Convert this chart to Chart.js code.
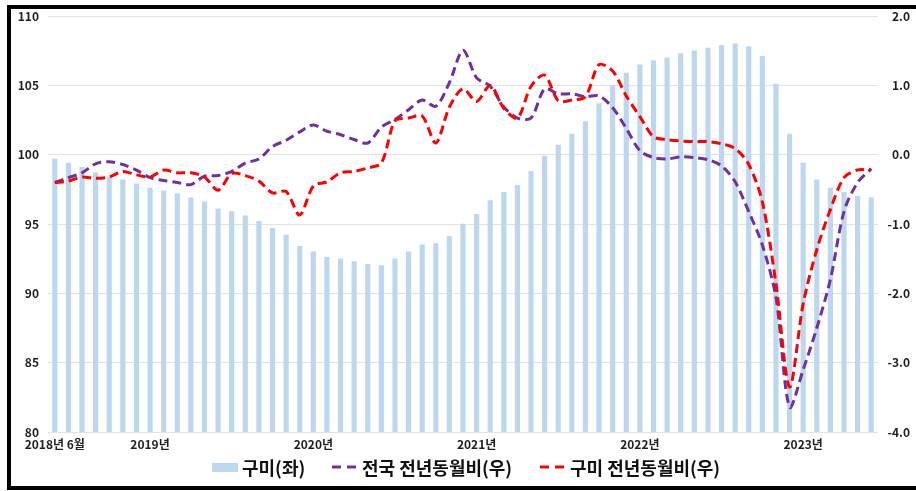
<!DOCTYPE html>
<html>
<head>
<meta charset="utf-8">
<script src="https://cdn.jsdelivr.net/npm/chart.js@4"></script>
<style>
  html, body { margin: 0; padding: 0; background: #fff; width: 916px; height: 491px; overflow: hidden; }
  #wrap { position: relative; width: 916px; height: 491px; }
  #chart { position: absolute; left: 0; top: 0; }
  #frame { position: absolute; left: 7px; top: 5px; width: 916px; height: 477px; border: 4px solid #000; border-right: none; pointer-events: none; }
  .lg { position: absolute; top: 456px; height: 22px; display: flex; align-items: center;
        font: 700 18px 'Noto Sans CJK KR', 'Noto Sans', sans-serif; color: #111; white-space: nowrap; }
  .lg svg { margin-right: 4px; }
</style>
</head>
<body>
<div id="wrap">
  <canvas id="chart" width="916" height="491"></canvas>
  <div id="legend"></div>
  <div id="frame"></div>
</div>
<script>
// months, 2018-06 .. 2023-06
const months = [
  '2018-06','2018-07','2018-08','2018-09','2018-10','2018-11','2018-12',
  '2019-01','2019-02','2019-03','2019-04','2019-05','2019-06','2019-07','2019-08','2019-09','2019-10','2019-11','2019-12',
  '2020-01','2020-02','2020-03','2020-04','2020-05','2020-06','2020-07','2020-08','2020-09','2020-10','2020-11','2020-12',
  '2021-01','2021-02','2021-03','2021-04','2021-05','2021-06','2021-07','2021-08','2021-09','2021-10','2021-11','2021-12',
  '2022-01','2022-02','2022-03','2022-04','2022-05','2022-06','2022-07','2022-08','2022-09','2022-10','2022-11','2022-12',
  '2023-01','2023-02','2023-03','2023-04','2023-05','2023-06'
];

// only these months get a label on the x axis
const xTickLabels = {
  '2018-06': '2018년 6월',
  '2019-01': '2019년',
  '2020-01': '2020년',
  '2021-01': '2021년',
  '2022-01': '2022년',
  '2023-01': '2023년'
};

const seriesNames = ['구미(좌)', '전국 전년동월비(우)', '구미 전년동월비(우)'];

// 구미 index (left axis)
const gumiIndex = [
  99.7, 99.4, 99.1, 98.7, 98.4, 98.2, 97.9,
  97.6, 97.4, 97.2, 96.9, 96.6, 96.1, 95.9, 95.6, 95.2, 94.7, 94.2, 93.4,
  93.0, 92.6, 92.5, 92.3, 92.1, 92.0, 92.5, 93.0, 93.5, 93.6, 94.1, 95.0,
  95.7, 96.7, 97.3, 97.8, 98.8, 99.9, 100.7, 101.5, 102.4, 103.7, 105.0, 105.9,
  106.5, 106.8, 107.0, 107.3, 107.5, 107.7, 107.9, 108.0, 107.8, 107.1, 105.1, 101.5,
  99.4, 98.2, 97.6, 97.3, 97.0, 96.9
];

// 전국 전년동월비 (right axis)
const nationYoY = [
  -0.40, -0.33, -0.26, -0.13, -0.10, -0.14, -0.22,
  -0.33, -0.37, -0.40, -0.43, -0.31, -0.30, -0.24, -0.12, -0.06, 0.12, 0.21, 0.33,
  0.43, 0.34, 0.29, 0.22, 0.17, 0.40, 0.51, 0.65, 0.79, 0.70, 1.04, 1.51,
  1.11, 0.99, 0.69, 0.53, 0.53, 0.95, 0.88, 0.88, 0.84, 0.85, 0.68, 0.38,
  0.06, -0.04, -0.06, -0.03, -0.04, -0.07, -0.16, -0.39, -0.82, -1.30, -2.06, -3.64,
  -3.10, -2.50, -1.80, -0.82, -0.40, -0.20
];

// 구미 전년동월비 (right axis)
const gumiYoY = [
  -0.40, -0.38, -0.32, -0.34, -0.32, -0.24, -0.29,
  -0.32, -0.22, -0.26, -0.26, -0.32, -0.51, -0.27, -0.30, -0.38, -0.55, -0.53, -0.87,
  -0.45, -0.39, -0.26, -0.24, -0.19, -0.12, 0.49, 0.53, 0.56, 0.17, 0.69, 0.95,
  0.77, 1.00, 0.67, 0.53, 0.99, 1.15, 0.78, 0.79, 0.84, 1.30, 1.21, 0.85,
  0.55, 0.26, 0.22, 0.20, 0.19, 0.19, 0.16, 0.09, -0.14, -0.68, -1.86, -3.35,
  -2.15, -1.37, -0.79, -0.33, -0.22, -0.22
];

const tickFont = { family: "'Noto Sans CJK KR', 'Noto Sans', sans-serif", size: 12, weight: 'bold' };
const tickColor = '#1f1f1f';

const ctx = document.getElementById('chart').getContext('2d');
const chart = new Chart(ctx, {
  data: {
    labels: months,
    datasets: [
      {
        type: 'bar',
        label: seriesNames[0],
        data: gumiIndex,
        yAxisID: 'y',
        backgroundColor: '#bdd7ee',
        barThickness: 4.5,
        order: 3
      },
      {
        type: 'line',
        label: seriesNames[1],
        data: nationYoY,
        yAxisID: 'y1',
        borderColor: '#7030a0',
        borderWidth: 3,
        borderDash: [9, 5],
        pointRadius: 0,
        tension: 0.3,
        fill: false,
        order: 2
      },
      {
        type: 'line',
        label: seriesNames[2],
        data: gumiYoY,
        yAxisID: 'y1',
        borderColor: '#ff0000',
        borderWidth: 3,
        borderDash: [9, 5],
        pointRadius: 0,
        tension: 0.3,
        fill: false,
        order: 1
      }
    ]
  },
  options: {
    responsive: false,
    animation: false,
    layout: { padding: { top: 16, left: 0, right: 6, bottom: 35 } },
    plugins: { legend: { display: false }, tooltip: { enabled: false } },
    scales: {
      x: {
        grid: { display: false, drawTicks: false },
        border: { display: false },
        ticks: {
          autoSkip: false, maxRotation: 0, minRotation: 0, padding: 5,
          font: tickFont, color: tickColor,
          callback: (v, i) => xTickLabels[months[i]] || ''
        },
        afterFit: s => { s.height = 24; }
      },
      y: {
        position: 'left',
        min: 80, max: 110,
        ticks: { stepSize: 5, padding: 9, font: tickFont, color: tickColor },
        grid: { color: '#e2e2e2', lineWidth: 1, drawTicks: false },
        border: { display: false },
        afterFit: s => { s.width = 48; }
      },
      y1: {
        position: 'right',
        min: -4, max: 2,
        ticks: { stepSize: 1, padding: 0, crossAlign: 'far', font: tickFont, color: tickColor,
                 callback: v => Number(v).toFixed(1) },
        grid: { drawOnChartArea: false, drawTicks: false },
        border: { display: false },
        afterFit: s => { s.width = 32; }
      }
    }
  }
});

// legend below the plot, built from the datasets
const legendLeft = [212, 332, 540];
const legendBox = document.getElementById('legend');
chart.data.datasets.forEach((ds, i) => {
  const item = document.createElement('div');
  item.className = 'lg';
  item.style.left = legendLeft[i] + 'px';
  let swatch;
  if (ds.type === 'bar') {
    swatch = '<svg width="26" height="9"><rect x="0" y="0" width="26" height="9" fill="' + ds.backgroundColor + '"/></svg>';
  } else {
    swatch = '<svg width="26" height="6"><line x1="0" y1="3" x2="26" y2="3" stroke="' + ds.borderColor +
             '" stroke-width="3" stroke-dasharray="9 6"/></svg>';
  }
  item.innerHTML = swatch;
  const txt = document.createElement('span');
  txt.textContent = ds.label;
  item.appendChild(txt);
  legendBox.appendChild(item);
});
</script>
</body>
</html>
